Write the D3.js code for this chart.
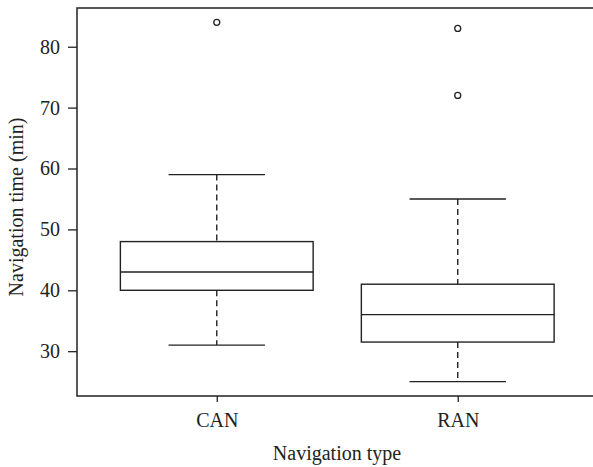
<!DOCTYPE html>
<html>
  <head>
    <script src="https://d3js.org/d3.v7.min.js"></script>
    <style>
      body { margin: 0; background: #fff; }
      text { font-family: "Liberation Serif", "DejaVu Serif", serif; fill: #222; }
    </style>
  </head>
  <body>
    <div id="chart"></div>
    <script>
      // box statistics
      var categories = ["CAN", "RAN"]
      var lowerWhisker = [31, 25]
      var q1 = [40, 31.5]
      var median = [43, 36]
      var q3 = [48, 41]
      var upperWhisker = [59, 55]
      var outliers = [[84], [72, 83]]
      var yTicks = [30, 40, 50, 60, 70, 80]

      const width = 593, height = 467
      const plot = {left: 77, top: 8, right: 597.5, bottom: 396}
      const ink = "#222"
      const fontSize = "20px"

      const svg = d3.select("#chart")
        .append("svg")
          .attr("width", width)
          .attr("height", height)

      // R style: positions 1..n, range padded by 4%
      const x = d3.scaleLinear()
        .domain([0.42, categories.length + 0.58])
        .range([plot.left, plot.right])

      const y = d3.scaleLinear()
        .domain([22.64, 86.36])
        .range([plot.bottom, plot.top])

      // frame
      svg.append("rect")
        .attr("x", plot.left)
        .attr("y", plot.top)
        .attr("width", plot.right - plot.left)
        .attr("height", plot.bottom - plot.top)
        .attr("fill", "none")
        .attr("stroke", ink)
        .attr("stroke-width", 1.5)

      // y axis
      const yAxis = svg.append("g")
        .attr("transform", `translate(${plot.left - 9},0)`)
        .call(d3.axisLeft(y).tickValues(yTicks).tickSize(0).tickPadding(8))
      yAxis.select(".domain").remove()
      yAxis.selectAll("text")
        .attr("font-size", fontSize)
        .attr("fill", ink)
      yAxis.selectAll(".tick").append("line")
        .attr("x1", 0).attr("x2", 9)
        .attr("stroke", ink).attr("stroke-width", 1.3)

      // x axis
      const xAxis = svg.append("g")
        .attr("transform", `translate(0,${plot.bottom})`)
        .call(d3.axisBottom(x)
          .tickValues(categories.map((d, i) => i + 1))
          .tickFormat((d, i) => categories[i])
          .tickSize(6).tickPadding(11))
      xAxis.select(".domain").remove()
      xAxis.selectAll("line").attr("stroke", ink).attr("stroke-width", 1.3)
      xAxis.selectAll("text")
        .attr("font-size", fontSize)
        .attr("fill", ink)

      const boxes = categories.map((c, i) => ({
        pos: i + 1, lo: lowerWhisker[i], q1: q1[i], med: median[i],
        q3: q3[i], hi: upperWhisker[i], out: outliers[i]
      }))

      const g = svg.append("g")
        .attr("stroke", ink)
        .attr("stroke-width", 1.4)
        .attr("fill", "none")

      const box = g.selectAll("g.box")
        .data(boxes)
        .join("g")
          .attr("class", "box")

      // whiskers (dashed)
      box.append("line")
        .attr("x1", d => x(d.pos)).attr("x2", d => x(d.pos))
        .attr("y1", d => y(d.hi)).attr("y2", d => y(d.q3))
        .attr("stroke-dasharray", "6,4")
      box.append("line")
        .attr("x1", d => x(d.pos)).attr("x2", d => x(d.pos))
        .attr("y1", d => y(d.q1)).attr("y2", d => y(d.lo))
        .attr("stroke-dasharray", "6,4")

      // caps
      box.append("line")
        .attr("x1", d => x(d.pos - 0.2)).attr("x2", d => x(d.pos + 0.2))
        .attr("y1", d => y(d.hi)).attr("y2", d => y(d.hi))
      box.append("line")
        .attr("x1", d => x(d.pos - 0.2)).attr("x2", d => x(d.pos + 0.2))
        .attr("y1", d => y(d.lo)).attr("y2", d => y(d.lo))

      // box
      box.append("rect")
        .attr("x", d => x(d.pos - 0.4))
        .attr("width", d => x(d.pos + 0.4) - x(d.pos - 0.4))
        .attr("y", d => y(d.q3))
        .attr("height", d => y(d.q1) - y(d.q3))
        .attr("fill", "#fff")

      // median
      box.append("line")
        .attr("x1", d => x(d.pos - 0.4)).attr("x2", d => x(d.pos + 0.4))
        .attr("y1", d => y(d.med)).attr("y2", d => y(d.med))

      // outliers
      box.selectAll("circle")
        .data(d => d.out.map(v => ({pos: d.pos, v: v})))
        .join("circle")
          .attr("cx", d => x(d.pos))
          .attr("cy", d => y(d.v))
          .attr("r", 3)
          .attr("stroke-width", 1.3)

      // axis titles
      svg.append("text").text("Navigation type")
        .attr("x", 337)
        .attr("y", 460)
        .attr("text-anchor", "middle")
        .attr("font-size", fontSize)

      svg.append("text").text("Navigation time (min)")
        .attr("transform", "translate(23,207)rotate(-90)")
        .attr("text-anchor", "middle")
        .attr("font-size", fontSize)
    </script>
  </body>
</html>
